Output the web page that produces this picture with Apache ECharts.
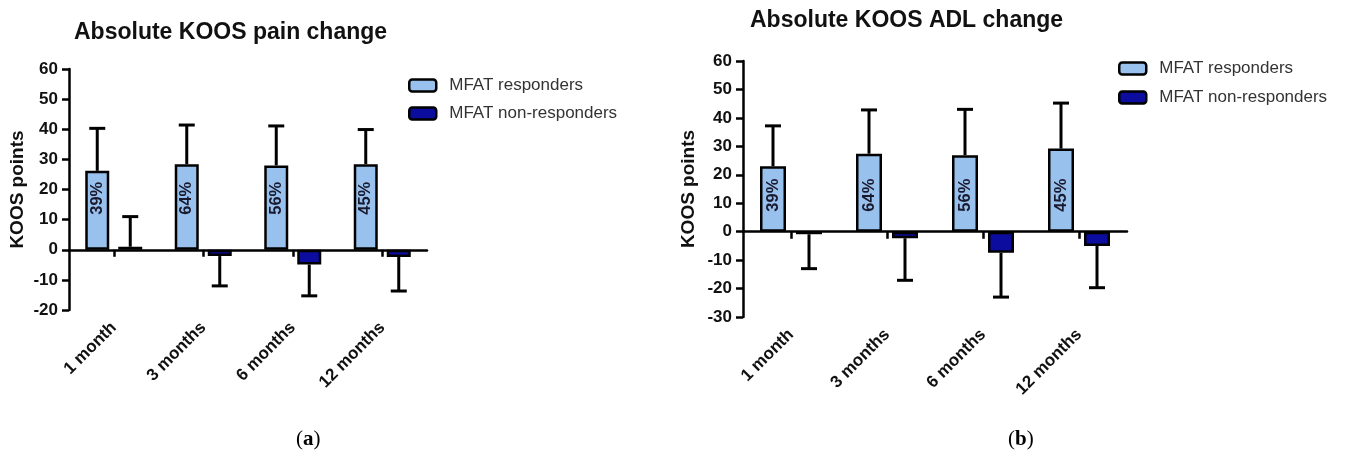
<!DOCTYPE html>
<html>
<head>
<meta charset="utf-8">
<script src="https://cdn.jsdelivr.net/npm/echarts@6/dist/echarts.min.js"></script>
<style>
html,body{margin:0;padding:0;background:#fff;}
#chart{width:1360px;height:456px;}
</style>
</head>
<body>
<div id="chart"></div>
<script>
// ---- data ----
const categories = ['1 month', '3 months', '6 months', '12 months'];
const seriesNames = ['MFAT responders', 'MFAT non-responders'];
const pctLabels = ['39%', '64%', '56%', '45%'];

// Panel (a): KOOS pain
const painResp = [26.2, 28.4, 28.0, 28.4];
const painRespErrEnd = [40.3, 41.4, 41.1, 39.9];
const painNon = [1.0, -2.1, -4.9, -2.4];
const painNonErrEnd = [11.0, -12.0, -15.3, -13.7];
const painTicks = { min: -20, max: 60, interval: 10 };

// Panel (b): KOOS ADL
const adlResp = [23.0, 27.4, 26.9, 29.2];
const adlRespErrEnd = [37.2, 42.8, 43.0, 45.2];
const adlNon = [-0.9, -2.3, -7.4, -5.0];
const adlNonErrEnd = [-13.0, -17.1, -23.0, -19.7];
const adlTicks = { min: -30, max: 60, interval: 10 };

const titles = ['Absolute KOOS pain change', 'Absolute KOOS ADL change'];
const yName = 'KOOS points';

// ---- style ----
const FONT = '"Liberation Sans", Arial, sans-serif';
const LIGHT = '#99C1EE';
const DARK = '#0C0C9E';
const chart = echarts.init(document.getElementById('chart'));

function errRender(sign, barW, gap) {
  return function (params, api) {
    const i = api.value(0);
    const base = api.coord([i, api.value(1)]);
    const end = api.coord([i, api.value(2)]);
    const x = base[0] + sign * (barW + gap) / 2;
    return {
      type: 'group',
      children: [
        { type: 'line', shape: { x1: x, y1: base[1], x2: x, y2: end[1] }, style: { stroke: '#000', lineWidth: 3 } },
        { type: 'line', shape: { x1: x - 8, y1: end[1], x2: x + 8, y2: end[1] }, style: { stroke: '#000', lineWidth: 3 } }
      ]
    };
  };
}

const panels = [
  { resp: painResp, respErr: painRespErrEnd, non: painNon, nonErr: painNonErrEnd, ticks: painTicks,
    grid: { left: 69, top: 69, width: 358, height: 241 }, barW: 24, gap: 9, labelDist: 35, nameGap: 42 },
  { resp: adlResp, respErr: adlRespErrEnd, non: adlNon, nonErr: adlNonErrEnd, ticks: adlTicks,
    grid: { left: 743, top: 61, width: 384, height: 256 }, barW: 26, gap: 10, labelDist: 20, nameGap: 45 }
];

const grid = [], xAxis = [], yAxis = [], series = [];
panels.forEach((p, k) => {
  grid.push(Object.assign({ containLabel: false }, p.grid));
  xAxis.push({
    type: 'category', data: categories, gridIndex: k, position: 'bottom',
    axisLine: { onZero: true, lineStyle: { color: '#000', width: 2.5 } },
    axisTick: { show: true, alignWithLabel: true, interval: 0, length: 7, lineStyle: { color: '#000', width: 2.5 } },
    axisLabel: { show: false }, splitLine: { show: false }
  });
  xAxis.push({
    type: 'category', data: categories, gridIndex: k, position: 'bottom',
    axisLine: { show: false, onZero: false }, axisTick: { show: false, alignWithLabel: true },
    axisLabel: { show: true, interval: 0, rotate: 45, margin: 15, color: '#111', fontFamily: FONT, fontWeight: 'bold', fontSize: 17 },
    splitLine: { show: false }
  });
  yAxis.push({
    type: 'value', gridIndex: k, min: p.ticks.min, max: p.ticks.max, interval: p.ticks.interval,
    name: yName, nameLocation: 'middle', nameGap: p.nameGap, nameRotate: 90,
    nameTextStyle: { fontFamily: FONT, fontWeight: 'bold', fontSize: 19, color: '#111' },
    axisLine: { show: true, lineStyle: { color: '#000', width: 2.5 } },
    axisTick: { show: true, length: 7, lineStyle: { color: '#000', width: 2.5 } },
    axisLabel: { margin: 11, color: '#111', fontFamily: FONT, fontWeight: 'bold', fontSize: 17 },
    splitLine: { show: false }
  });
  const xi = k * 2;
  series.push({
    name: seriesNames[0], type: 'bar', xAxisIndex: xi, yAxisIndex: k,
    data: p.resp, barWidth: p.barW, barGap: (p.gap / p.barW * 100) + '%',
    itemStyle: { color: LIGHT, borderColor: '#000', borderWidth: 2.5 },
    label: {
      show: true, position: 'insideBottom', distance: p.labelDist, rotate: 90, align: 'left', verticalAlign: 'middle',
      formatter: (q) => pctLabels[q.dataIndex], fontFamily: FONT, fontWeight: 'bold', fontSize: 16.5, color: '#1a1a2e'
    },
    z: 3
  });
  series.push({
    name: seriesNames[1], type: 'bar', xAxisIndex: xi, yAxisIndex: k,
    data: p.non, barWidth: p.barW,
    itemStyle: { color: DARK, borderColor: '#000', borderWidth: 2.5 },
    z: 3
  });
  series.push({
    type: 'custom', xAxisIndex: xi, yAxisIndex: k, renderItem: errRender(-1, p.barW, p.gap),
    encode: { x: 0, y: [1, 2] }, data: categories.map((c, i) => [i, p.resp[i], p.respErr[i]]), z: 2, silent: true
  });
  series.push({
    type: 'custom', xAxisIndex: xi, yAxisIndex: k, renderItem: errRender(1, p.barW, p.gap),
    encode: { x: 0, y: [1, 2] }, data: categories.map((c, i) => [i, p.non[i], p.nonErr[i]]), z: 2, silent: true
  });
});

const legendCommon = {
  orient: 'vertical', icon: 'roundRect', itemWidth: 27, itemHeight: 12,
  data: seriesNames, selectedMode: false,
  itemStyle: { borderColor: '#000', borderWidth: 2.5 },
  textStyle: { fontFamily: FONT, fontSize: 17, color: '#333', padding: [0, 0, 0, 8] }
};

const titleStyle = { fontFamily: FONT, fontWeight: 'bold', fontSize: 23, color: '#111' };

chart.setOption({
  animation: false,
  backgroundColor: '#fff',
  title: [
    { text: titles[0], left: 69, top: 16, textStyle: titleStyle },
    { text: titles[1], left: 745, top: 4, textStyle: titleStyle }
  ],
  legend: [
    Object.assign({ left: 403, top: 72, itemGap: 11 }, legendCommon),
    Object.assign({ left: 1113, top: 55, itemGap: 12 }, legendCommon)
  ],
  grid, xAxis, yAxis, series,
  graphic: [
    { type: 'text', left: 296, top: 429, style: { text: '({a|a})', rich: { a: { fontWeight: 'bold', fontFamily: '"Liberation Serif", serif', fontSize: 21 } }, fontFamily: '"Liberation Serif", serif', fontSize: 21, fill: '#000' } },
    { type: 'text', left: 1008, top: 429, style: { text: '({a|b})', rich: { a: { fontWeight: 'bold', fontFamily: '"Liberation Serif", serif', fontSize: 21 } }, fontFamily: '"Liberation Serif", serif', fontSize: 21, fill: '#000' } }
  ]
});
</script>
</body>
</html>
